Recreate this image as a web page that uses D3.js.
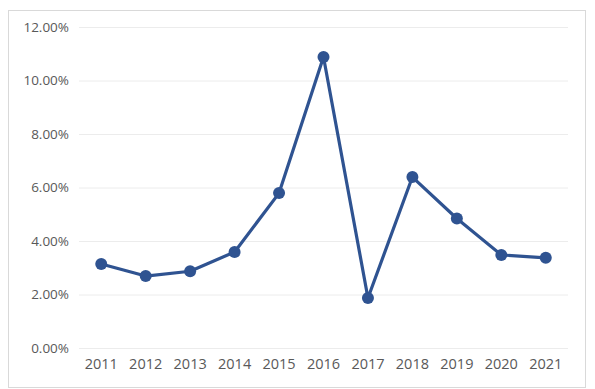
<!DOCTYPE html>
<html><head><meta charset="utf-8">
<script src="https://cdn.jsdelivr.net/npm/d3@7"></script>
<style>body{margin:0;background:#fff;}svg{display:block;}</style>
</head><body>
<svg id="c" width="595" height="389"></svg>
<script>
const years = ["2011","2012","2013","2014","2015","2016","2017","2018","2019","2020","2021"];
const values = [3.14, 2.69, 2.87, 3.59, 5.79, 10.88, 1.87, 6.39, 4.84, 3.48, 3.37];
const yTicks = [0, 2, 4, 6, 8, 10, 12];

const svg = d3.select("#c");
svg.append("rect").attr("x",8.5).attr("y",10.5).attr("width",577).attr("height",377)
  .attr("fill","#fff").attr("stroke","#d9d9d9");

const m = {l:79, r:568, t:27, b:348};
const x = d3.scaleBand().domain(years).range([m.l, m.r]);
const y = d3.scaleLinear().domain([0,12]).range([m.b, m.t]);

const font = "'Open Sans', 'Noto Sans', sans-serif";
const yAxis = d3.axisLeft(y).tickValues(yTicks).tickSize(-(m.r-m.l)).tickPadding(10)
  .tickFormat(d => d.toFixed(2) + "%");
const gy = svg.append("g").attr("transform",`translate(${m.l},0)`).call(yAxis);
gy.select(".domain").remove();
gy.selectAll("line").attr("stroke","#ececec");
gy.selectAll("text").attr("fill","#595959").style("font-family",font).style("font-size","13.5px");

const xAxis = d3.axisBottom(x).tickSize(0).tickPadding(11);
const gx = svg.append("g").attr("transform",`translate(0,${m.b})`).call(xAxis);
gx.select(".domain").remove();
gx.selectAll("text").attr("fill","#595959").style("font-family",font).style("font-size","14.5px");

const cx = d => x(d) + x.bandwidth()/2;
const line = d3.line().x((d,i)=>cx(years[i])).y(d=>y(d));
svg.append("path").datum(values).attr("d",line).attr("fill","none")
  .attr("stroke","#2f5391").attr("stroke-width",3.2).attr("stroke-linejoin","round");
svg.selectAll("circle.pt").data(values).enter().append("circle")
  .attr("cx",(d,i)=>cx(years[i])).attr("cy",d=>y(d)).attr("r",6).attr("fill","#2f5391");
</script>
</body></html>
